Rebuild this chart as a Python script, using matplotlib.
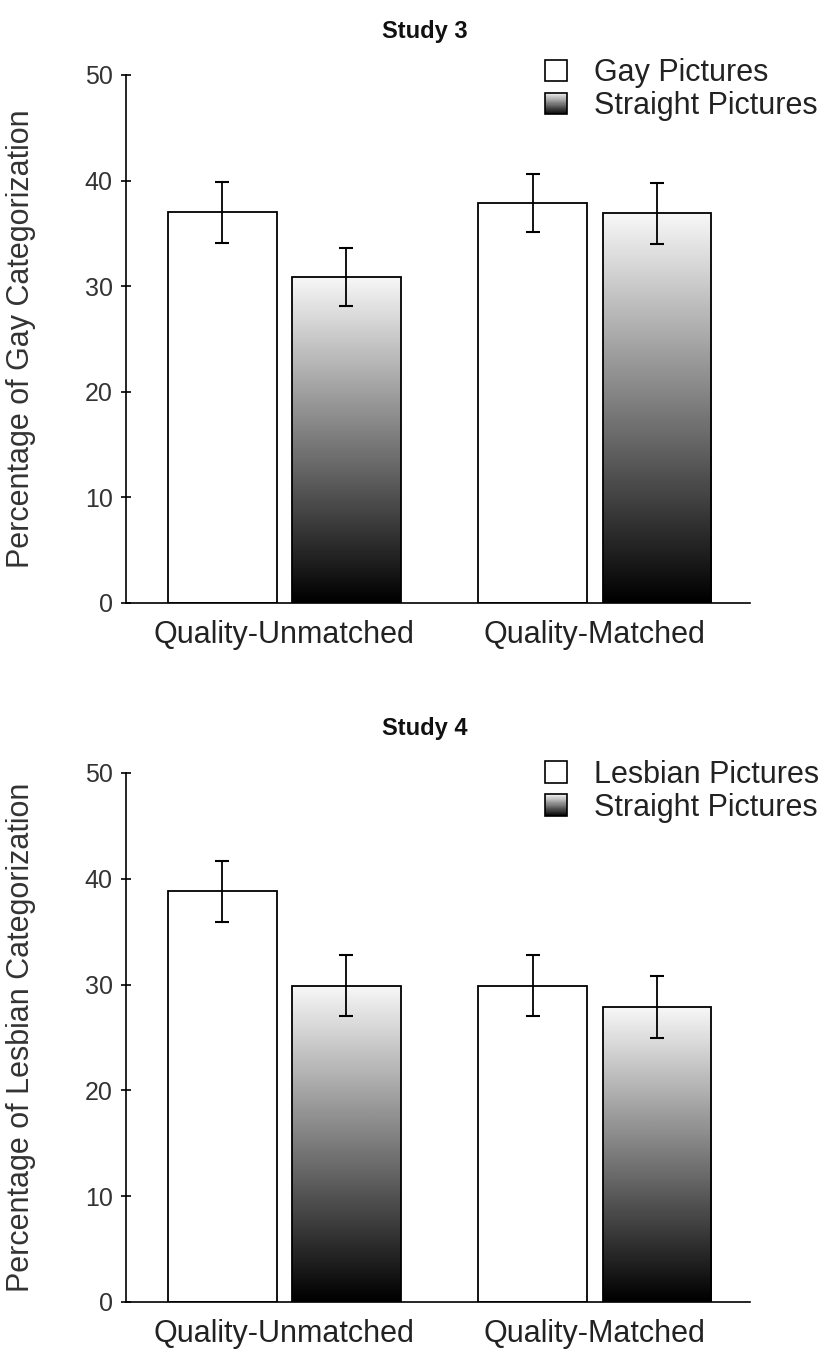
import numpy as np
import matplotlib
matplotlib.use('Agg')
import matplotlib.pyplot as plt
from matplotlib.patches import Rectangle, Patch
from matplotlib.legend_handler import HandlerBase

plt.rcParams['font.family'] = ['Liberation Sans', 'DejaVu Sans']

categories = ['Quality-Unmatched', 'Quality-Matched']
yticks = [0, 10, 20, 30, 40, 50]

study3_gay = [37.0, 37.9]
study3_gay_err = [2.9, 2.75]
study3_straight = [30.9, 36.9]
study3_straight_err = [2.75, 2.9]

study4_lesbian = [38.8, 29.9]
study4_lesbian_err = [2.9, 2.9]
study4_straight = [29.9, 27.9]
study4_straight_err = [2.9, 2.95]

GRAD = np.linspace(0.0, 0.97, 256).reshape(-1, 1)


class GradHandler(HandlerBase):
    def create_artists(self, legend, orig_handle, xdescent, ydescent,
                       width, height, fontsize, trans):
        n = 40
        arts = []
        for i in range(n):
            v = 0.97 * (i + 0.5) / n
            arts.append(Rectangle((-xdescent, -ydescent + height * i / n), width,
                                  height / n + 0.3, facecolor=str(v),
                                  edgecolor='none', transform=trans))
        arts.append(Rectangle((-xdescent, -ydescent), width, height, fill=False,
                              edgecolor='black', lw=1.2, transform=trans))
        return arts


def panel(ax, title, ylabel, first_label, first_vals, first_err,
          second_vals, second_err, leg_y):
    x = np.arange(len(categories))
    w, off = 0.35, 0.2
    ax.bar(x - off, first_vals, w, color='white', edgecolor='black', lw=1.3, zorder=2)
    bars = ax.bar(x + off, second_vals, w, color='none', edgecolor='black', lw=1.3, zorder=3)
    for b in bars:
        x0 = b.get_x()
        ax.imshow(GRAD, extent=[x0, x0 + b.get_width(), 0, b.get_height()],
                  cmap='gray', vmin=0, vmax=1, aspect='auto', origin='lower', zorder=2)
    ax.errorbar(x - off, first_vals, yerr=first_err, fmt='none', ecolor='black',
                elinewidth=1.3, capsize=5, capthick=1.5, zorder=4)
    ax.errorbar(x + off, second_vals, yerr=second_err, fmt='none', ecolor='black',
                elinewidth=1.3, capsize=5, capthick=1.5, zorder=4)

    ax.set_xlim(-0.51, 1.50)
    ax.set_ylim(0, 50)
    ax.set_yticks(yticks)
    ax.set_xticks(x)
    ax.set_xticklabels(categories)
    for s in ['top', 'right']:
        ax.spines[s].set_visible(False)
    ax.spines['left'].set_linewidth(1.2)
    ax.spines['bottom'].set_linewidth(1.2)
    ax.tick_params(axis='y', direction='inout', length=7, width=1.2, pad=6,
                   labelsize=18, labelcolor='#333333')
    ax.tick_params(axis='x', length=0, pad=12, labelsize=22, labelcolor='#222222')
    ax.set_ylabel(ylabel, fontsize=22, color='#333333')
    ax.yaxis.set_label_coords(-0.145, 0.5)
    ax.text(0.479, 1.083, title, transform=ax.transAxes, ha='center', va='center',
            fontsize=17, fontweight='bold', color='#111111')

    h1 = Patch(facecolor='white', edgecolor='black', lw=1.2)
    h2 = Patch(facecolor='gray', edgecolor='black')
    ax.legend([h1, h2], [first_label, 'Straight Pictures'],
              handler_map={h2: GradHandler()},
              loc='upper left', bbox_to_anchor=(0.671, leg_y), frameon=False,
              fontsize=22, handlelength=0.72, handleheight=0.72,
              handletextpad=0.9, labelspacing=0.1, borderpad=0,
              borderaxespad=0, labelcolor='#222222')


fig = plt.figure(figsize=(8.28, 13.51), dpi=100)
ax1 = fig.add_axes([0.1522, 0.5537, 0.7536, 0.3908])
ax2 = fig.add_axes([0.1522, 0.0363, 0.7536, 0.3916])

panel(ax1, 'Study 3', 'Percentage of Gay Categorization', 'Gay Pictures',
      study3_gay, study3_gay_err, study3_straight, study3_straight_err, 1.032)
panel(ax2, 'Study 4', 'Percentage of Lesbian Categorization', 'Lesbian Pictures',
      study4_lesbian, study4_lesbian_err, study4_straight, study4_straight_err, 1.025)

fig.savefig('out.png', dpi=100)
